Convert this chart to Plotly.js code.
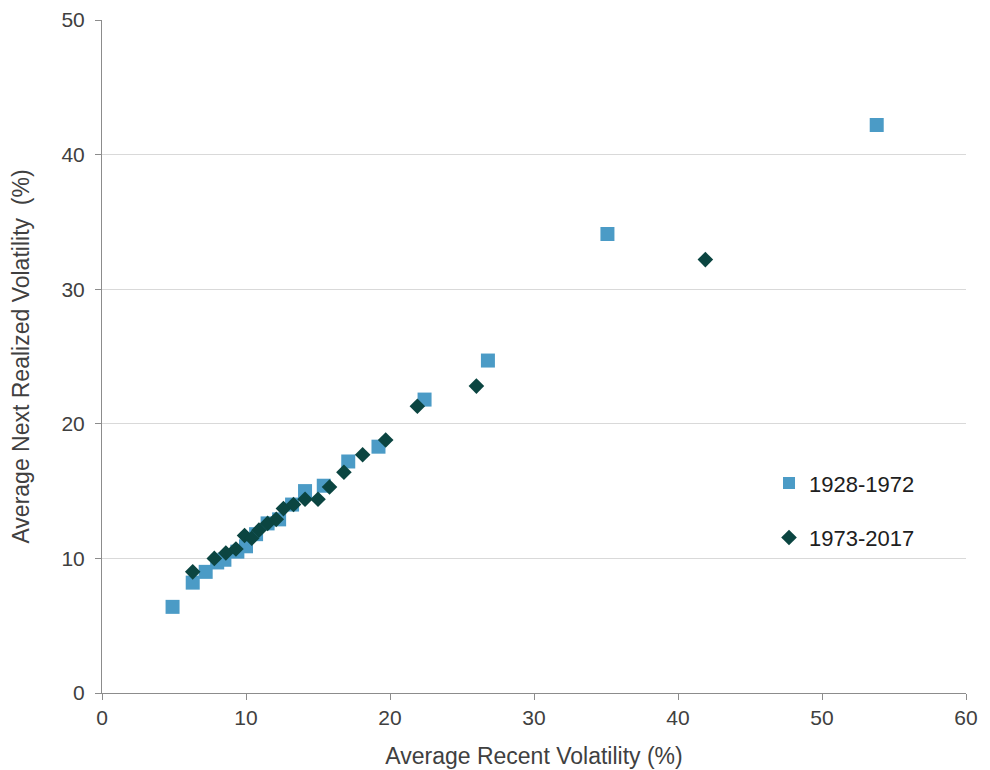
<!DOCTYPE html>
<html>
<head>
<meta charset="utf-8">
<script src="https://cdn.plot.ly/plotly-3.0.1.min.js"></script>
<style>html,body{margin:0;padding:0;background:#fff;}#chart{width:990px;height:770px;}</style>
</head>
<body>
<div id="chart"></div>
<script>
const seriesA = "1928-1972";
const aX = [4.9, 6.3, 7.2, 8.0, 8.5, 9.4, 10.0, 10.7, 11.5, 12.3, 13.2, 14.1, 15.4, 17.1, 19.2, 22.4, 26.8, 35.1, 53.8];
const aY = [6.4, 8.2, 9.0, 9.7, 9.9, 10.5, 10.9, 11.8, 12.6, 12.9, 14.0, 15.0, 15.4, 17.2, 18.3, 21.8, 24.7, 34.1, 42.2];
const seriesB = "1973-2017";
const bX = [6.3, 7.8, 8.6, 9.3, 9.9, 10.4, 10.9, 11.5, 12.1, 12.6, 13.3, 14.1, 15.0, 15.8, 16.8, 18.1, 19.7, 21.9, 26.0, 41.9];
const bY = [9.0, 10.0, 10.4, 10.7, 11.7, 11.5, 12.1, 12.6, 12.9, 13.7, 14.0, 14.4, 14.4, 15.3, 16.4, 17.7, 18.8, 21.3, 22.8, 32.2];
const xTicks = [0, 10, 20, 30, 40, 50, 60];
const yTicks = [0, 10, 20, 30, 40, 50];

const font = "Liberation Sans, Arial, sans-serif";
const traces = [
  {x: aX, y: aY, name: seriesA, type: "scatter", mode: "markers", legendgroup: "a",
   marker: {symbol: "square", size: 14, color: "#4b9bc6"}},
  {x: bX, y: bY, name: seriesB, type: "scatter", mode: "markers", legendgroup: "b",
   marker: {symbol: "diamond", size: 12, color: "#0b4541"}}
];
const layout = {
  width: 990, height: 770,
  margin: {l: 102, r: 24, t: 20, b: 77},
  paper_bgcolor: "#fff", plot_bgcolor: "#fff",
  font: {family: font, size: 21, color: "#404040"},
  showlegend: true,
  legend: {x: 0.772, y: 0.343, xanchor: "left", yanchor: "top", tracegroupgap: 23,
           font: {family: font, size: 22, color: "#202020"}, itemsizing: "constant", bgcolor: "rgba(0,0,0,0)"},
  xaxis: {range: [0, 60], tickvals: xTicks, ticktext: xTicks.map(String), showgrid: false, zeroline: false,
          showline: true, linecolor: "#8c8c8c", linewidth: 1, ticks: "outside", ticklen: 6, tickcolor: "#8c8c8c",
          tickfont: {family: font, size: 21, color: "#404040"},
          title: {text: "Average Recent Volatility (%)", font: {family: font, size: 23, color: "#404040"}, standoff: 19}},
  yaxis: {range: [0, 50], tickvals: yTicks, ticktext: yTicks.map(String), showgrid: true, gridcolor: "#d9d9d9", gridwidth: 1,
          zeroline: false, showline: true, linecolor: "#8c8c8c", linewidth: 1, ticks: "outside", ticklen: 6, tickcolor: "#8c8c8c",
          ticklabelstandoff: 6,
          tickfont: {family: font, size: 21, color: "#404040"},
          title: {text: "Average Next Realized Volatility  (%)", font: {family: font, size: 23, color: "#404040"}, standoff: 25}}
};
Plotly.newPlot("chart", traces, layout, {displayModeBar: false, staticPlot: true});
</script>
</body>
</html>
